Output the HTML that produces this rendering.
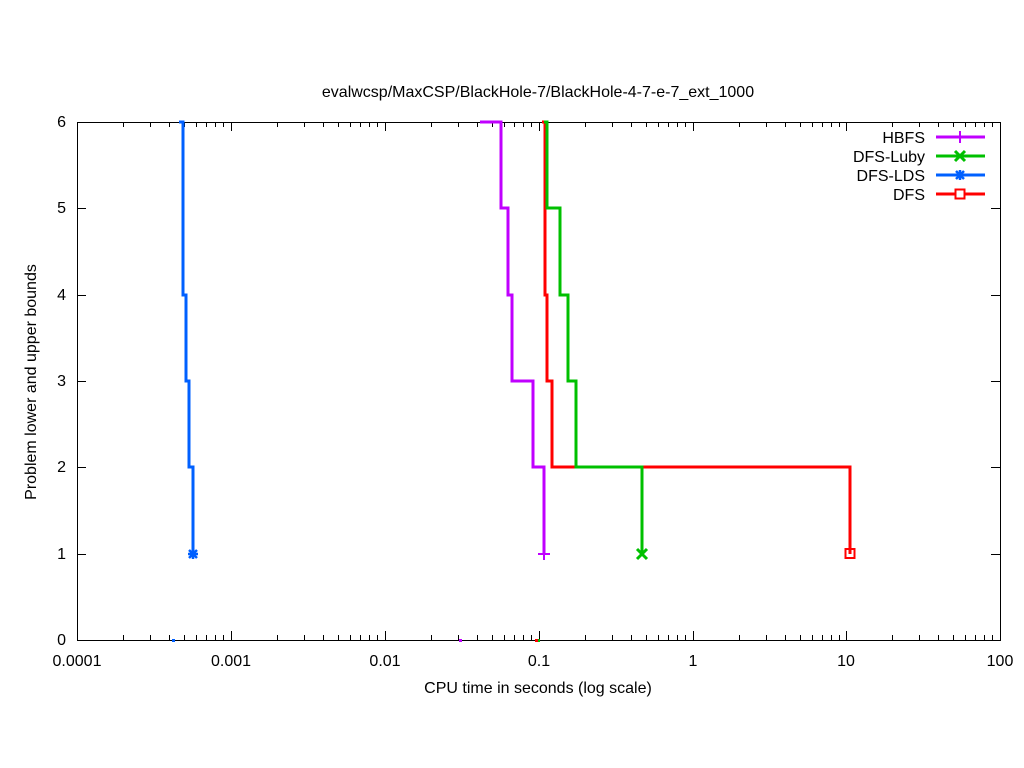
<!DOCTYPE html>
<html><head><style>body{margin:0;background:#fff}svg{display:block}text{font-family:"Liberation Sans",sans-serif;font-size:16px;fill:#000}</style></head>
<body>
<svg width="1024" height="768" viewBox="0 0 1024 768">
<rect width="1024" height="768" fill="#fff"/>
<text x="538" y="97" text-anchor="middle">evalwcsp/MaxCSP/BlackHole-7/BlackHole-4-7-e-7_ext_1000</text>
<g stroke="#000" stroke-width="1" fill="none">
<rect x="77.5" y="122.5" width="923" height="518"/>
<path d="M77 122.5h9M1000 122.5h-9M77 208.5h9M1000 208.5h-9M77 295.5h9M1000 295.5h-9M77 381.5h9M1000 381.5h-9M77 467.5h9M1000 467.5h-9M77 554.5h9M1000 554.5h-9"/>
<path d="M77.5 640v-9M231.5 640v-9M385.5 640v-9M539.5 640v-9M693.5 640v-9M846.5 640v-9M1000.5 640v-9M77.5 122v9M231.5 122v9M385.5 122v9M539.5 122v9M693.5 122v9M846.5 122v9M1000.5 122v9"/>
<path d="M123.5 640v-5M150.5 640v-5M169.5 640v-5M184.5 640v-5M196.5 640v-5M206.5 640v-5M215.5 640v-5M223.5 640v-5"/>
<path d="M277.5 640v-5M304.5 640v-5M323.5 640v-5M338.5 640v-5M350.5 640v-5M360.5 640v-5M369.5 640v-5M377.5 640v-5M431.5 640v-5M458.5 640v-5M477.5 640v-5M492.5 640v-5M504.5 640v-5M514.5 640v-5M523.5 640v-5M531.5 640v-5M585.5 640v-5M612.5 640v-5M631.5 640v-5M646.5 640v-5M658.5 640v-5M668.5 640v-5M677.5 640v-5M685.5 640v-5M739.5 640v-5M766.5 640v-5M785.5 640v-5M800.5 640v-5M812.5 640v-5M822.5 640v-5M831.5 640v-5M839.5 640v-5M892.5 640v-5M919.5 640v-5M938.5 640v-5M953.5 640v-5M965.5 640v-5M975.5 640v-5M984.5 640v-5M992.5 640v-5"/>
<path d="M123.5 122v5M150.5 122v5M169.5 122v5M184.5 122v5M196.5 122v5M206.5 122v5M215.5 122v5M223.5 122v5M277.5 122v5M304.5 122v5M323.5 122v5M338.5 122v5M350.5 122v5M360.5 122v5M369.5 122v5M377.5 122v5M431.5 122v5M458.5 122v5M477.5 122v5M492.5 122v5M504.5 122v5M514.5 122v5M523.5 122v5M531.5 122v5M585.5 122v5M612.5 122v5M631.5 122v5M646.5 122v5M658.5 122v5M668.5 122v5M677.5 122v5M685.5 122v5M739.5 122v5M766.5 122v5M785.5 122v5M800.5 122v5M812.5 122v5M822.5 122v5M831.5 122v5M839.5 122v5M892.5 122v5M919.5 122v5M938.5 122v5M953.5 122v5M965.5 122v5M975.5 122v5M984.5 122v5M992.5 122v5"/>
</g>
<g text-anchor="end">
<text x="66" y="127">6</text><text x="66" y="213">5</text><text x="66" y="300">4</text><text x="66" y="386">3</text><text x="66" y="472">2</text><text x="66" y="559">1</text><text x="66" y="645">0</text>
</g>
<g text-anchor="middle">
<text x="77" y="666">0.0001</text><text x="231" y="666">0.001</text><text x="385" y="666">0.01</text><text x="539" y="666">0.1</text><text x="693" y="666">1</text><text x="846" y="666">10</text><text x="1000" y="666">100</text>
<text x="538" y="693">CPU time in seconds (log scale)</text>
</g>
<text transform="translate(36 382) rotate(-90)" text-anchor="middle">Problem lower and upper bounds</text>
<g fill="none" stroke-width="3">
<path stroke="#0060ff" d="M179 122H183V295H186V381H189V467H193V554"/>
<path stroke="#c000ff" d="M480 122H501V208H508V295H512V381H533V467H544V554"/>
<path stroke="#ff0000" d="M542 122H545V295H547V381H552V467H850V554"/>
<path stroke="#00c000" d="M544 122H547V208H560V295H568V381H576V467H642V554"/>
</g>
<rect x="172" y="639" width="3" height="3" fill="#0060ff"/>
<rect x="459" y="639" width="3" height="3" fill="#c000ff"/>
<rect x="535" y="639" width="3" height="3" fill="#ff0000"/>
<rect x="538" y="639" width="2" height="3" fill="#00c000"/>
<g stroke-width="2" fill="none">
<path stroke="#c000ff" d="M538 554h12M544 548v12"/>
<path stroke="#00c000" stroke-width="3" d="M637 549l10 10M647 549l-10 10"/>
<path stroke="#0060ff" stroke-width="2.5" d="M188 554h10M193 549v10M189 550l8 8M197 550l-8 8"/>
<rect stroke="#ff0000" x="845.5" y="549" width="9" height="9"/>
</g>
<g text-anchor="end">
<text x="925" y="143">HBFS</text><text x="925" y="162">DFS-Luby</text><text x="925" y="181">DFS-LDS</text><text x="925" y="200">DFS</text>
</g>
<g stroke-width="3" fill="none">
<path stroke="#c000ff" d="M936 137h49"/><path stroke="#c000ff" stroke-width="2" d="M954 137h12M960 131v12"/>
<path stroke="#00c000" d="M936 156h49M955 151l10 10M965 151l-10 10"/>
<path stroke="#0060ff" d="M936 175h49"/><path stroke="#0060ff" stroke-width="2.5" d="M960 170v10M956 171l8 8M964 171l-8 8"/>
<path stroke="#ff0000" d="M936 194h49"/><rect stroke="#ff0000" stroke-width="2" fill="#fff" x="955.5" y="189.5" width="9" height="9"/>
</g>
</svg>
</body></html>
